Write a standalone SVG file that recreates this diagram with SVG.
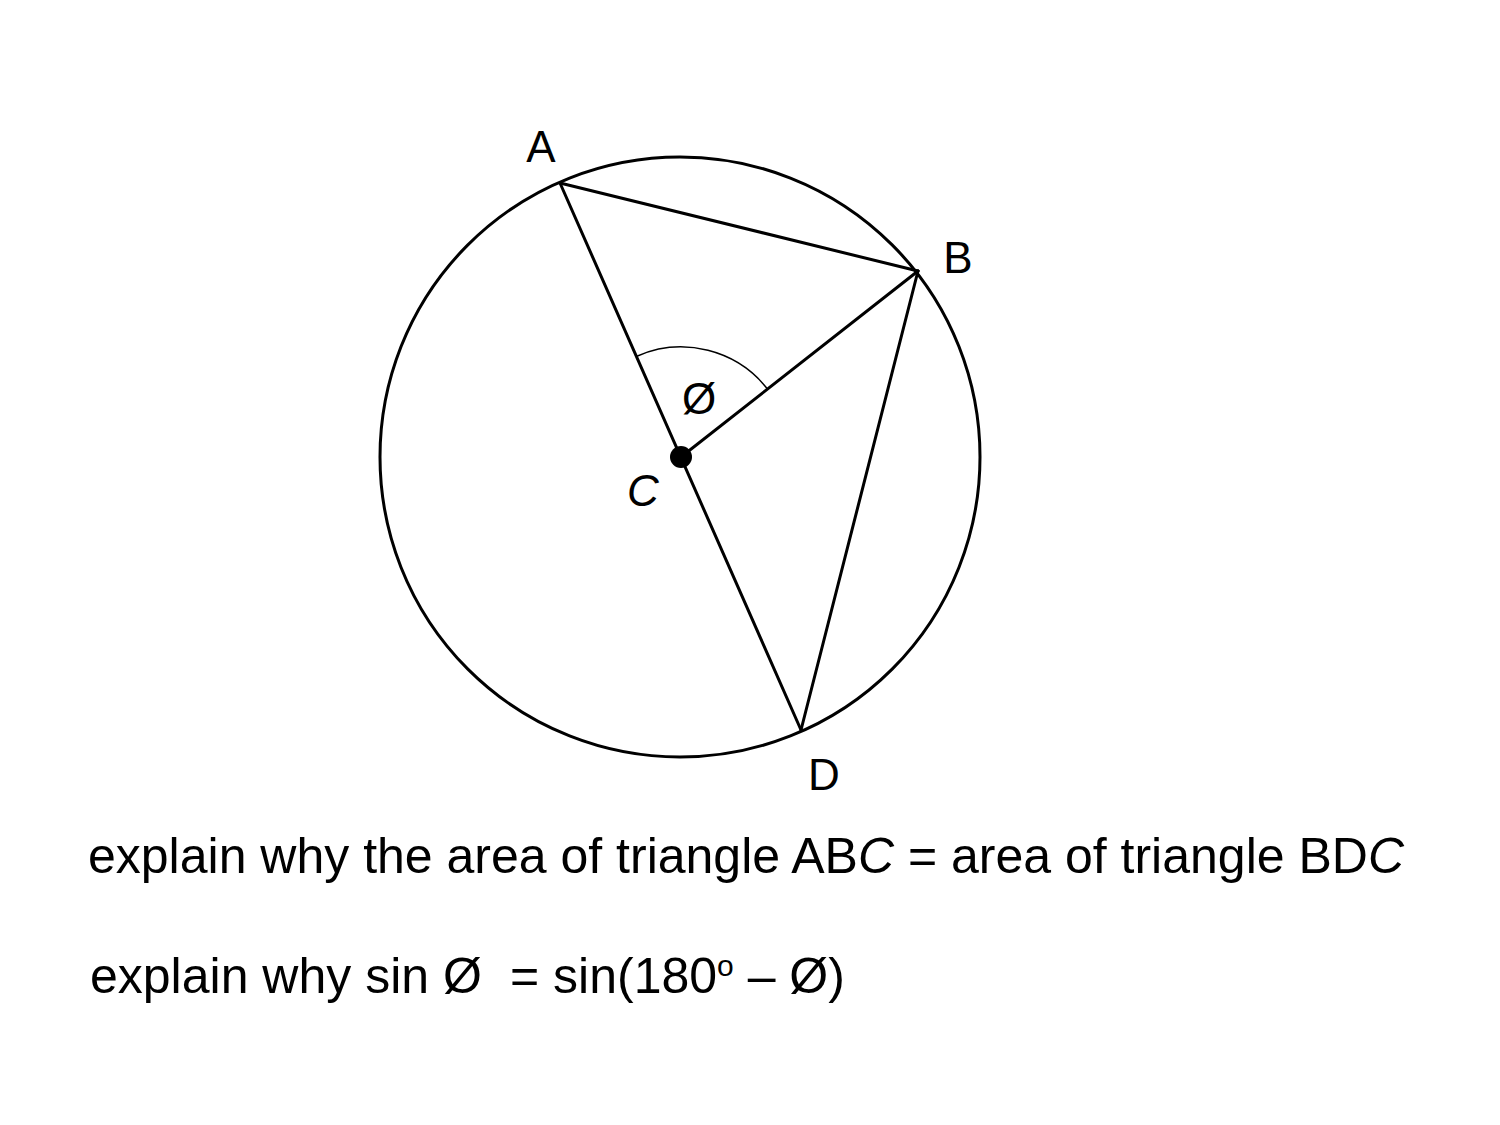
<svg xmlns="http://www.w3.org/2000/svg" width="1500" height="1125" viewBox="0 0 1500 1125">
<style>
.ln{stroke:#000;stroke-width:3;fill:none;stroke-linecap:round;stroke-linejoin:round}
.lbl{font-family:"Liberation Sans",Arial,sans-serif;font-size:44px;fill:#000}
.txt{font-family:"Liberation Sans",Arial,sans-serif;font-size:50px;fill:#000}
.it{font-style:italic}
</style>
<rect width="1500" height="1125" fill="#fff"/>
<g id="circle"><circle cx="680" cy="457" r="300" class="ln"/></g>
<g id="connectors">
<line x1="560" y1="183" x2="801" y2="730" class="ln"/>
<line x1="681" y1="457" x2="918" y2="271" class="ln"/>
<line x1="560" y1="183" x2="918" y2="271" class="ln"/>
<line x1="918" y1="271" x2="801" y2="730" class="ln"/>
<path d="M636.9,356.2 A110,110 0 0 1 767.7,389.3" stroke="#000" stroke-width="1.5" fill="none"/>
</g>
<g id="A"><text x="541" y="162" class="lbl" text-anchor="middle">A</text></g>
<g id="B"><text x="958" y="273" class="lbl" text-anchor="middle">B</text></g>
<g id="D"><text x="824" y="790" class="lbl" text-anchor="middle">D</text></g>
<g id="C"><circle cx="681" cy="457" r="11" fill="#000"/><text x="643" y="506" class="lbl it" text-anchor="middle">C</text></g>
<g id="angle"><text x="699" y="414" class="lbl" text-anchor="middle">Ø</text></g>
<g id="question1"><text x="88" y="873" class="txt">explain why the area of triangle AB<tspan class="it">C</tspan> = area of triangle BD<tspan class="it">C</tspan></text></g>
<g id="question2"><text x="90" y="993" class="txt">explain why sin Ø<tspan x="510">= sin(180</tspan><tspan dy="-17" font-size="30">o</tspan><tspan dy="17"> – Ø)</tspan></text></g>
</svg>
